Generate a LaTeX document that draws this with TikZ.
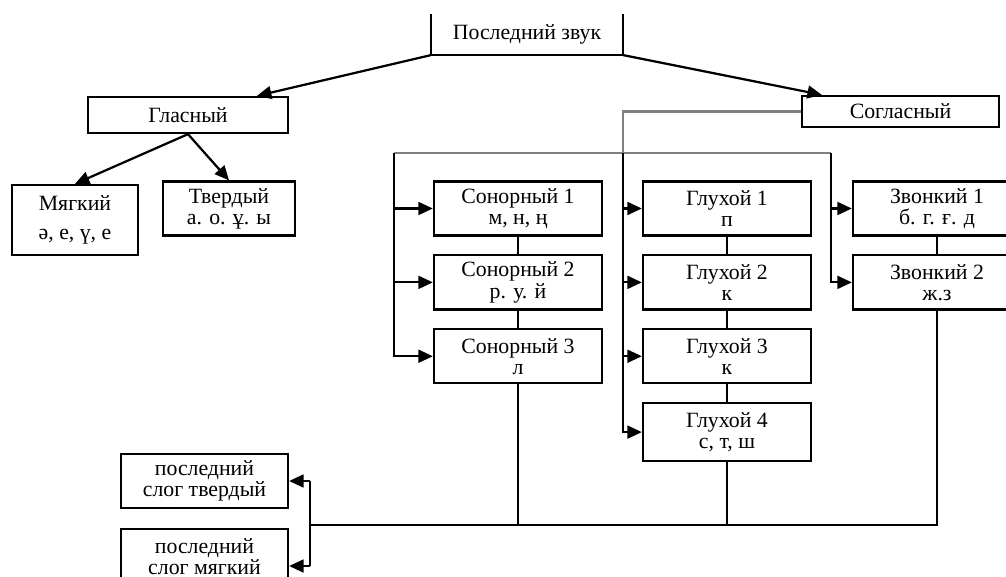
\documentclass[tikz,border=0pt]{standalone}
\usepackage{fontspec}
\setmainfont{Liberation Serif}
\usetikzlibrary{arrows.meta,positioning,calc}

\begin{document}
\begin{tikzpicture}[
  x=0.025cm, y=-0.025cm,
  font=\fontsize{15.5}{15}\selectfont,
  box/.style={draw, line width=1.6pt, align=center, inner sep=2pt, minimum width=4.2cm, minimum height=1.35cm},
  arrow/.style={-{Triangle[length=3.6mm,width=3.2mm]}, line width=1.6pt},
  link/.style={line width=1.6pt},
  bus/.style={line width=1.6pt, black!50}
]
\useasboundingbox (0,0) rectangle (1006,577);
\clip (0,0) rectangle (1006,577);
% top level
\node[box, draw=none, minimum width=4.75cm, minimum height=0.975cm] (sound) at (527,34.5) {Последний звук};
\draw[link] (sound.north west) |- (sound.south east) -- (sound.north east);
\node[box, minimum width=5cm, minimum height=0.9cm] (vowel) at (188,115) {Гласный};
\node[box, minimum width=4.925cm, minimum height=0.775cm] (cons) at (900.5,111.5) {Согласный};
\draw[arrow] (sound.south west) -- ($(vowel.north)+(69,0)$);
\draw[arrow] (sound.south east) -- ($(cons.north west)+(21,0)$);
% vowels
\node[box, minimum width=3.15cm, minimum height=1.75cm] (soft) at (75,220) {Мягкий\\[0.2cm]ә, е, ү, е};
\node[box, minimum width=3.3cm] (hard) at (229,208.5) {Твердый\\а. о. ұ. ы};
\draw[arrow] (vowel.south) -- (soft.north);
\draw[arrow] (vowel.south) -- (hard.north);
% consonants
\node[box] (son1) at (518,208.5) {Сонорный 1\\м, н, ң};
\node[box, below=0.44cm of son1] (son2) {Сонорный 2\\р. у. й};
\node[box, below=0.44cm of son2] (son3) {Сонорный 3\\л};
\node[box] (deaf1) at (727,208.5) {Глухой 1\\п};
\node[box, below=0.44cm of deaf1] (deaf2) {Глухой 2\\к};
\node[box, below=0.44cm of deaf2] (deaf3) {Глухой 3\\к};
\node[box, below=0.44cm of deaf3, minimum height=1.45cm] (deaf4) {Глухой 4\\с, т, ш};
\node[box] (voic1) at (937,208.5) {Звонкий 1\\б. г. ғ. д};
\node[box, below=0.44cm of voic1] (voic2) {Звонкий 2\\ж.з};
\coordinate (lbus) at (394,153);
\coordinate (mbus) at (623,153);
\coordinate (rbus) at (831,153);
\draw[bus] (cons.west) -| (mbus);
\draw[bus] (lbus) -- (rbus);
\draw[arrow] (lbus) |- (son3.west);
\draw[arrow] (mbus) |- (deaf4.west);
\draw[arrow] (rbus) |- (voic2.west);
\foreach \n in {son1,son2}
  \draw[arrow] (lbus |- \n.west) -- (\n.west);
\foreach \n in {deaf1,deaf2,deaf3}
  \draw[arrow] (mbus |- \n.west) -- (\n.west);
\draw[arrow] (rbus |- voic1.west) -- (voic1.west);
\draw[link] (son1) -- (son2) -- (son3);
\draw[link] (deaf1) -- (deaf2) -- (deaf3) -- (deaf4);
\draw[link] (voic1) -- (voic2);
% last syllable
\node[box, minimum width=4.175cm] (hardlast) at (204.5,481) {последний\\слог твердый};
\node[box, minimum width=4.175cm, below=0.475cm of hardlast] (softlast) {последний\\слог мягкий};
\coordinate (bbus) at (310,525);
\coordinate (vtop) at (310,481);
\coordinate (vbot) at (310,566);
\draw[link] (voic2.south) |- (bbus);
\draw[link] (son3.south) -- (son3.south |- bbus);
\draw[link] (deaf4.south) -- (deaf4.south |- bbus);
\draw[link] (vtop) -- (vbot);
\draw[arrow] (vtop) -- (hardlast.east);
\draw[arrow] (vbot) -- (vbot -| softlast.east);
\end{tikzpicture}
\end{document}
